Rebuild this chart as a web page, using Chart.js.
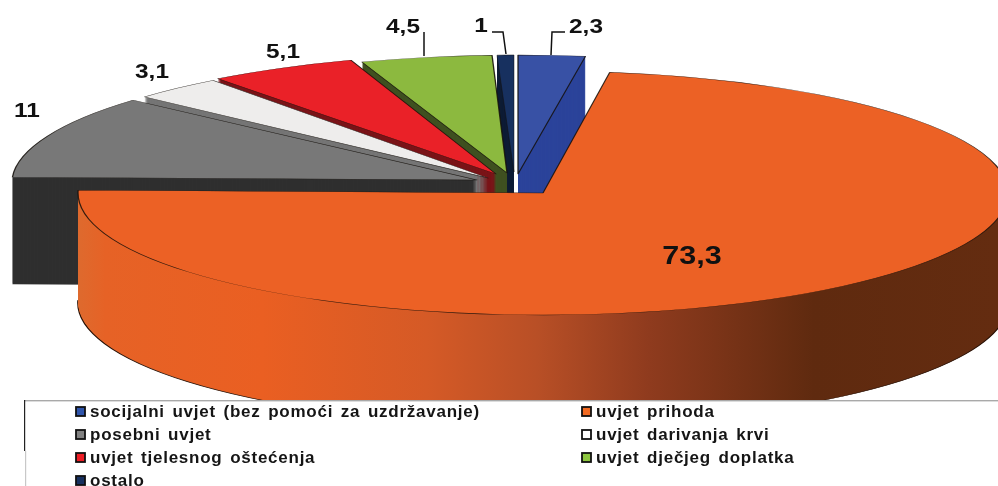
<!DOCTYPE html>
<html><head><meta charset="utf-8">
<style>html,body{margin:0;padding:0;background:#fff}#w{width:998px;height:486px;position:relative}</style>
<script src="https://cdn.jsdelivr.net/npm/chart.js@4"></script>
</head><body><div id="w"><canvas id="c" width="998" height="486"></canvas></div>
<script>
const categories = ["socijalni uvjet (bez pomoći za uzdržavanje)","uvjet prihoda","posebni uvjet","uvjet darivanja krvi","uvjet tjelesnog oštećenja","uvjet dječjeg doplatka","ostalo"];
const values = [2.3,73.3,11,3.1,5.1,4.5,1];
const valueLabels = ["2,3","73,3","11","3,1","5,1","4,5","1"];
const topColors = ["#3851a5","#ec6125","#787878","#eeedec","#ea2128","#8cb93f","#17305f"];
const sideColors = ["#2b439a","#e85f22","#2f2f2f","#757575","#7a1418","#3f5020","#0f1d36"];
const swatchColors = ["#2f55ab","#f26a21","#808080","#ffffff","#ed1c24","#8dc63f","#17305f"];
// placement of each exploded slice on the tilted plane
const place = [
 {cx:518,cy:174,rx:470,ry:119,k:0,depth:100},
 {cx:543,cy:193,rx:465,ry:122,k:0,depth:110},
 {cx:477,cy:180,rx:465,ry:122,k:-0.1,depth:107},
 {cx:488,cy:178,rx:470,ry:124,k:-0.15,depth:100},
 {cx:496,cy:174,rx:470,ry:121,k:-0.12,depth:100},
 {cx:507,cy:173,rx:470,ry:118,k:-0.123,depth:100},
 {cx:514,cy:172,rx:272,ry:117,k:0,depth:100}
];
const paintOrder = [6,5,4,3,2,0,1];
const labelPos = [[586,27],[692,257],[27,111],[152,72],[283,52],[403,27],[481,26]];
const labelSizes = [20,25,20,20,20,20,20];
const labelStretch = 1.22;
const leaders = [[[565,32],[552,32],[551,55]],[[492,32],[503,32],[506,54]],[[424,32],[424,56]]];

function applyPlace(ctx,arc,p){
  const R=arc.outerRadius, a=p.rx/R, d=p.ry/R, c=p.k*d;
  ctx.transform(a,0,c,d,p.cx-a*arc.x-c*arc.y,p.cy-d*arc.y);
}
function paintArc(ctx,arc,fill,stroke,w){
  const saved=arc.options;
  arc.options={backgroundColor:fill,borderColor:stroke,borderWidth:w,borderAlign:'center',offset:0,spacing:0,circular:true,borderRadius:0,borderJoinStyle:'round'};
  arc.draw(ctx);
  arc.options=saved;
}
const pie3d={id:'pie3d',
 beforeDatasetsDraw(chart){
  const ctx=chart.ctx, arcs=chart.getDatasetMeta(0).data;
  paintOrder.forEach(i=>{
    const arc=arcs[i], p=place[i];
    let side=sideColors[i];
    if(i===1){
      const a=p.rx/arc.outerRadius, toLocal=X=>arc.x+(X-p.cx)/a;
      const g=ctx.createLinearGradient(toLocal(78),0,toLocal(998),0);
      g.addColorStop(0,'#de6a2e');g.addColorStop(.03,'#e66226');g.addColorStop(.2,'#ea5f22');
      g.addColorStop(.38,'#d55a26');g.addColorStop(.5,'#b84f26');g.addColorStop(.62,'#8f3b1e');
      g.addColorStop(.8,'#5f2a0f');g.addColorStop(1,'#642c10');
      side=g;
    }
    for(let y=p.depth;y>=1;y--){
      ctx.save();ctx.translate(0,y);applyPlace(ctx,arc,p);
      if(y===p.depth&&i===1) paintArc(ctx,arc,side,'#2a1206',0.9); else paintArc(ctx,arc,side,side,0);
      ctx.restore();
    }
    ctx.save();applyPlace(ctx,arc,p);
    paintArc(ctx,arc,topColors[i],'rgba(20,15,10,.85)',0.7);
    ctx.restore();
  });
  return false;
 },
 afterDraw(chart){
  const ctx=chart.ctx;
  ctx.save();
  ctx.fillStyle='#fff';ctx.fillRect(0,401,998,85);
  ctx.fillStyle='#a9a9a9';ctx.fillRect(25,400,973,1.4);
  ctx.fillStyle='#222';ctx.fillRect(24,400,1.2,51);
  ctx.fillStyle='#c8c8c8';ctx.fillRect(25,451,1.2,35);
  // leaders
  ctx.strokeStyle='#111';ctx.lineWidth=1.5;
  leaders.forEach(l=>{ctx.beginPath();l.forEach((q,n)=>n?ctx.lineTo(q[0],q[1]):ctx.moveTo(q[0],q[1]));ctx.stroke();});
  // value labels
  ctx.fillStyle='#111';ctx.textAlign='center';ctx.textBaseline='middle';
  valueLabels.forEach((t,i)=>{
    ctx.save();
    ctx.font='bold '+labelSizes[i]+'px "Liberation Sans"';
    ctx.translate(labelPos[i][0],labelPos[i][1]);ctx.scale(labelStretch,1);
    ctx.fillText(t,0,0);
    ctx.restore();
  });
  // legend
  const cols=[75,581], rows=[412,435,458,481];
  ctx.textAlign='left';ctx.font='bold 17px "Liberation Sans"';ctx.letterSpacing='0.75px';ctx.wordSpacing='2.2px';
  categories.forEach((t,i)=>{
    const x=cols[i%2], y=rows[Math.floor(i/2)];
    ctx.fillStyle=swatchColors[i];ctx.fillRect(x+1,y-5,9,9);
    ctx.strokeStyle='#111';ctx.lineWidth=1.8;ctx.strokeRect(x+1,y-5,9,9);
    ctx.fillStyle='#151515';ctx.fillText(t,x+15,y);
  });
  ctx.letterSpacing='0px';ctx.wordSpacing='0px';
  ctx.restore();
 }
};
new Chart(document.getElementById('c'),{
 type:'pie',
 data:{labels:categories,datasets:[{data:values,backgroundColor:topColors,borderWidth:0}]},
 options:{responsive:false,animation:false,events:[],layout:{padding:0},
  plugins:{legend:{display:false},tooltip:{enabled:false},title:{display:false}}},
 plugins:[pie3d]
});
</script></body></html>
